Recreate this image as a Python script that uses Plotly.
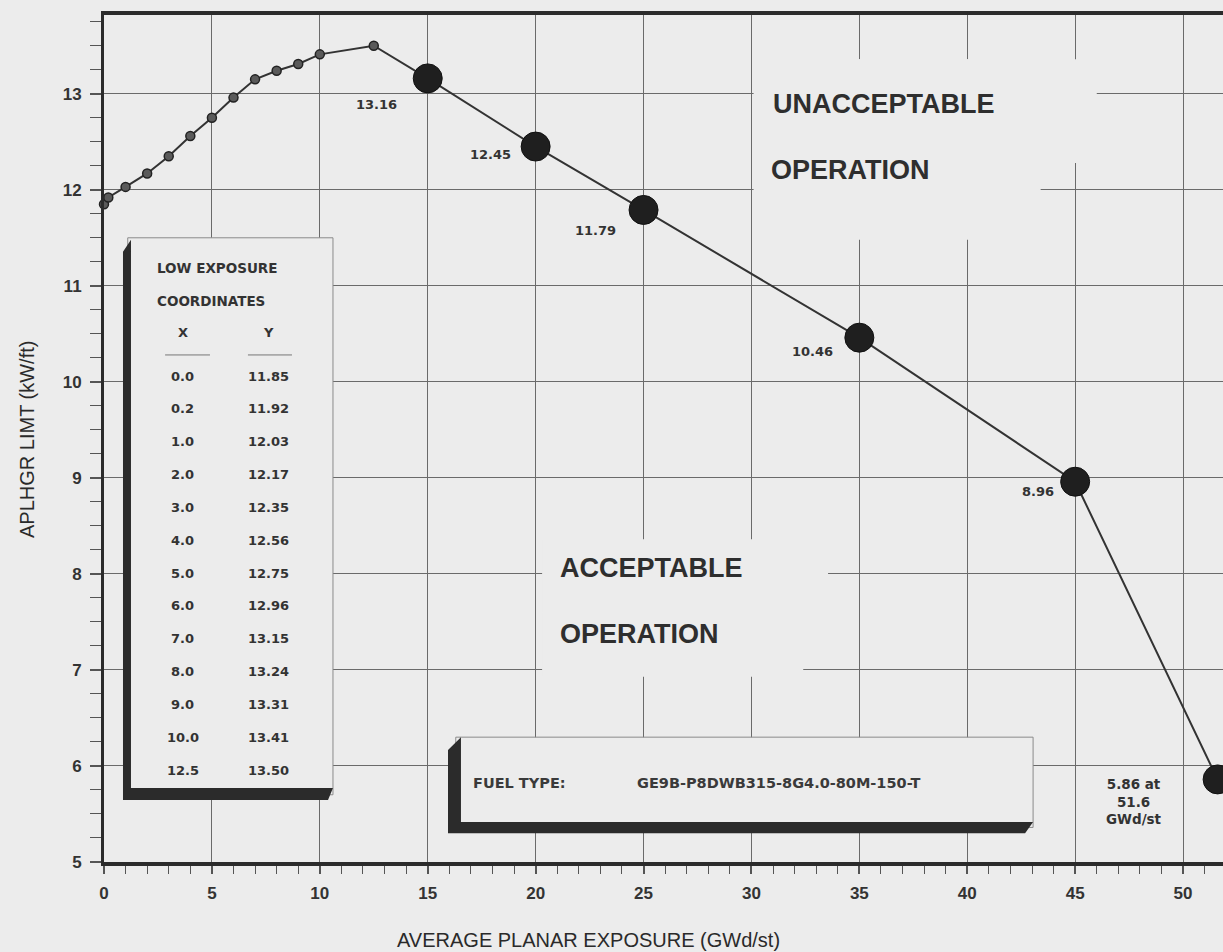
import plotly.graph_objects as go

# Low-exposure coordinates (also listed in the inset table)
low_x = [0.0, 0.2, 1.0, 2.0, 3.0, 4.0, 5.0, 6.0, 7.0, 8.0, 9.0, 10.0, 12.5]
low_y = [11.85, 11.92, 12.03, 12.17, 12.35, 12.56, 12.75, 12.96, 13.15, 13.24, 13.31, 13.41, 13.50]

# Higher-exposure breakpoints (labelled on the curve)
high_x = [15.0, 20.0, 25.0, 35.0, 45.0, 51.6]
high_y = [13.16, 12.45, 11.79, 10.46, 8.96, 5.86]

x_ticks = [0, 5, 10, 15, 20, 25, 30, 35, 40, 45, 50]
y_ticks = [5, 6, 7, 8, 9, 10, 11, 12, 13]

fuel_type = "GE9B-P8DWB315-8G4.0-80M-150-T"

BG = "#ececec"
INK = "#2b2b2b"
GRID = "#6a6a6a"
SANS = "Liberation Sans, Arial, sans-serif"
SMALL = "DejaVu Sans, sans-serif"

fig = go.Figure()

# full limit curve
fig.add_trace(go.Scatter(
    x=low_x + high_x, y=low_y + high_y, mode="lines",
    line=dict(color="#333333", width=2), cliponaxis=False, hoverinfo="skip",
))
fig.add_trace(go.Scatter(
    x=low_x, y=low_y, mode="markers", cliponaxis=False,
    marker=dict(size=9, color="#5a5a5a", line=dict(color="#222222", width=1.5)),
))
fig.add_trace(go.Scatter(
    x=high_x, y=high_y, mode="markers", cliponaxis=False,
    marker=dict(size=29, color="#1f1f1f", line=dict(color="#111111", width=1)),
))

shapes = []
annotations = []

# background patches behind the region captions (interrupt the grid)
for x0, x1, y0, y1 in [(30.4, 46.0, 12.28, 13.36), (30.1, 43.4, 11.48, 13.36),
                       (20.3, 33.55, 7.5, 8.36), (20.3, 32.4, 6.93, 7.6)]:
    shapes.append(dict(type="rect", layer="between", x0=x0, x1=x1, y0=y0, y1=y1,
                       fillcolor=BG, line=dict(width=0)))

# inset table panel with a drop-shadow edge
shapes.append(dict(type="rect", layer="between", x0=1.1, x1=10.61, y0=5.70, y1=11.50,
                   fillcolor=BG, line=dict(color="#8a8a8a", width=1)))
shapes.append(dict(type="path", layer="between",
                   path="M 0.88 11.354 L 1.25 11.479 L 1.25 5.771 L 10.61 5.771 "
                        "L 10.38 5.646 L 0.88 5.646 Z",
                   fillcolor=INK, line=dict(width=0)))

# fuel type panel with a drop-shadow edge
shapes.append(dict(type="rect", layer="between", x0=16.3, x1=43.05, y0=5.36, y1=6.30,
                   fillcolor=BG, line=dict(color="#8a8a8a", width=1)))
shapes.append(dict(type="path", layer="between",
                   path="M 15.94 6.165 L 16.54 6.30 L 16.54 5.417 L 43.05 5.417 "
                        "L 42.68 5.30 L 15.94 5.30 Z",
                   fillcolor=INK, line=dict(width=0)))

# table underlines
for ux0, ux1 in [(2.83, 4.91), (6.67, 8.71)]:
    shapes.append(dict(type="line", layer="between", x0=ux0, x1=ux1, y0=10.28, y1=10.28,
                       line=dict(color="#777777", width=1)))

small_font = dict(family=SMALL, size=13, color="#333333")
head_font = dict(family=SMALL, size=13.5, color="#333333")

annotations.append(dict(x=2.36, y=11.19, text="<b>LOW EXPOSURE</b>", showarrow=False,
                        xanchor="left", yanchor="middle", font=head_font))
annotations.append(dict(x=2.36, y=10.84, text="<b>COORDINATES</b>", showarrow=False,
                        xanchor="left", yanchor="middle", font=head_font))
annotations.append(dict(x=3.66, y=10.51, text="<b>X</b>", showarrow=False,
                        xanchor="center", yanchor="middle", font=small_font))
annotations.append(dict(x=7.60, y=10.51, text="<b>Y</b>", showarrow=False,
                        xanchor="center", yanchor="middle", font=small_font))
row0, row_step = 10.06, 0.342
for i, (lx, ly) in enumerate(zip(low_x, low_y)):
    yy = row0 - i * row_step
    annotations.append(dict(x=3.66, y=yy, text=f"<b>{lx:.1f}</b>", showarrow=False,
                            xanchor="center", yanchor="middle", font=small_font))
    annotations.append(dict(x=7.60, y=yy, text=f"<b>{ly:.2f}</b>", showarrow=False,
                            xanchor="center", yanchor="middle", font=small_font))

# value labels beside the large markers
offsets = [(-51, -26), (-45, -8), (-48, -21), (-47, -14), (-37, -10)]
for (hx, hy), (dx, dy) in zip(zip(high_x[:-1], high_y[:-1]), offsets):
    annotations.append(dict(x=hx, y=hy, text=f"<b>{hy:.2f}</b>", showarrow=False,
                            xshift=dx, yshift=dy, font=small_font))
annotations.append(dict(x=high_x[-1], y=high_y[-1],
                        text=f"<b>{high_y[-1]:.2f} at<br>{high_x[-1]}<br>GWd/st</b>",
                        showarrow=False, xshift=-84, yshift=-22, align="center",
                        font=dict(family=SMALL, size=13.5, color="#333333")))

# region captions
big_font = dict(family=SANS, size=27, color="#2e2e2e")
for tx, ty, txt in [(30.9, 12.896, "UNACCEPTABLE"), (30.8, 12.21, "OPERATION"),
                    (21.05, 8.06, "ACCEPTABLE"), (21.05, 7.375, "OPERATION")]:
    annotations.append(dict(x=tx, y=ty, text=f"<b>{txt}</b>", showarrow=False,
                            xanchor="left", yanchor="middle", font=big_font))

# fuel type caption
fuel_font = dict(family=SMALL, size=14.5, color="#3a3a3a")
annotations.append(dict(x=17.0, y=5.82, text="<b>FUEL TYPE:</b>", showarrow=False,
                        xanchor="left", yanchor="middle", font=fuel_font))
annotations.append(dict(x=24.6, y=5.82, text=f"<b>{fuel_type}</b>", showarrow=False,
                        xanchor="left", yanchor="middle", font=fuel_font))

# axis titles
annotations.append(dict(xref="paper", yref="paper", x=(588 - 104) / 1119, y=(862 - 940) / 847,
                        text="AVERAGE PLANAR EXPOSURE (GWd/st)", showarrow=False,
                        xanchor="center", yanchor="middle",
                        font=dict(family=SANS, size=20, color="#2a2a2a")))
annotations.append(dict(xref="paper", yref="paper", x=(27 - 104) / 1119, y=(862 - 440) / 847,
                        text="APLHGR LIMT (kW/ft)", showarrow=False, textangle=-90,
                        xanchor="center", yanchor="middle",
                        font=dict(family=SANS, size=20, color="#2a2a2a")))

tick_font = dict(family=SANS, size=17, color="#333333")

fig.update_layout(
    width=1223, height=952,
    margin=dict(l=104, r=0, t=15, b=90),
    paper_bgcolor=BG, plot_bgcolor=BG,
    showlegend=False,
    shapes=shapes, annotations=annotations,
    xaxis=dict(
        range=[0, 51.85], tickvals=x_ticks, ticktext=[f"<b>{v}</b>" for v in x_ticks],
        showgrid=True, gridcolor=GRID, gridwidth=1,
        showline=True, linecolor=INK, linewidth=3.5, mirror=True,
        ticks="outside", ticklen=8, tickwidth=1.5, tickcolor="#555555",
        ticklabelstandoff=5, tickfont=tick_font, zeroline=False,
        minor=dict(dtick=1, ticks="outside", ticklen=8, tickwidth=1.2,
                   tickcolor="#555555", showgrid=False),
    ),
    yaxis=dict(
        range=[5, 13.82], tickvals=y_ticks, ticktext=[f"<b>{v}</b>" for v in y_ticks],
        showgrid=True, gridcolor=GRID, gridwidth=1,
        showline=True, linecolor=INK, linewidth=3, mirror=False,
        ticks="outside", ticklen=11, tickwidth=1.5, tickcolor="#555555",
        ticklabelstandoff=5, tickfont=tick_font, zeroline=False,
        minor=dict(dtick=0.25, ticks="outside", ticklen=11, tickwidth=1.2,
                   tickcolor="#555555", showgrid=False),
    ),
)

fig.write_html("out.html")
